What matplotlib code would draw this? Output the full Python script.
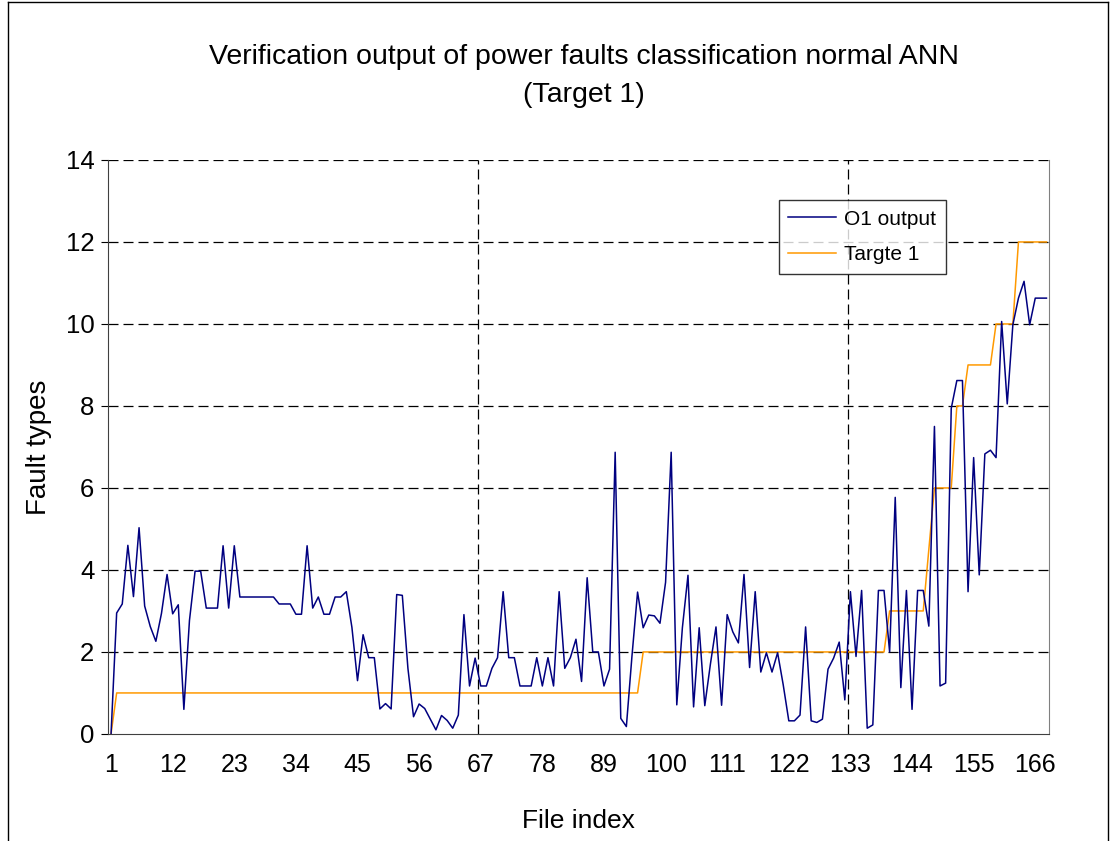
import matplotlib
matplotlib.use("Agg")
import matplotlib.pyplot as plt
from matplotlib.lines import Line2D
import numpy as np

plt.rcParams['font.family'] = ['Liberation Sans', 'DejaVu Sans']

# O1 output values, file index 1..168
o1_output = [
    0, 2.95, 3.17, 4.6, 3.35, 5.03, 3.12, 2.62, 2.26, 2.94,
    3.89, 2.93, 3.15, 0.6, 2.77, 3.97, 3.97, 3.07, 3.07, 3.07,
    4.59, 3.07, 4.59, 3.34, 3.34, 3.34, 3.34, 3.34, 3.34, 3.34,
    3.17, 3.17, 3.17, 2.92, 2.92, 4.59, 3.07, 3.34, 2.92, 2.92,
    3.34, 3.34, 3.47, 2.6, 1.3, 2.42, 1.86, 1.86, 0.61, 0.74,
    0.61, 3.4, 3.38, 1.6, 0.42, 0.73, 0.62, 0.36, 0.1, 0.45,
    0.33, 0.14, 0.46, 2.91, 1.17, 1.85, 1.17, 1.17, 1.6, 1.86,
    3.47, 1.86, 1.86, 1.17, 1.17, 1.17, 1.86, 1.17, 1.86, 1.17,
    3.47, 1.6, 1.86, 2.31, 1.28, 3.81, 2.0, 2.0, 1.17, 1.58,
    6.87, 0.38, 0.18, 1.9, 3.46, 2.59, 2.9, 2.88, 2.7, 3.7,
    6.87, 0.71, 2.59, 3.87, 0.66, 2.59, 0.69, 1.7, 2.61, 0.70,
    2.91, 2.49, 2.22, 3.89, 1.62, 3.47, 1.51, 1.98, 1.51, 1.98,
    1.2, 0.32, 0.32, 0.46, 2.61, 0.32, 0.28, 0.36, 1.58, 1.85,
    2.24, 0.83, 3.47, 1.89, 3.5, 0.14, 0.22, 3.5, 3.5, 2.0,
    5.77, 1.13, 3.5, 0.6, 3.5, 3.5, 2.63, 7.5, 1.17, 1.24,
    7.94, 8.62, 8.62, 3.47, 6.74, 3.88, 6.83, 6.92, 6.74, 10.06,
    8.05, 9.98, 10.63, 11.04, 9.98, 10.63, 10.63, 10.63,
]

# target values ("Targte 1" in the legend)
target_1 = [
    0, 1, 1, 1, 1, 1, 1, 1, 1, 1,
    1, 1, 1, 1, 1, 1, 1, 1, 1, 1,
    1, 1, 1, 1, 1, 1, 1, 1, 1, 1,
    1, 1, 1, 1, 1, 1, 1, 1, 1, 1,
    1, 1, 1, 1, 1, 1, 1, 1, 1, 1,
    1, 1, 1, 1, 1, 1, 1, 1, 1, 1,
    1, 1, 1, 1, 1, 1, 1, 1, 1, 1,
    1, 1, 1, 1, 1, 1, 1, 1, 1, 1,
    1, 1, 1, 1, 1, 1, 1, 1, 1, 1,
    1, 1, 1, 1, 1, 2, 2, 2, 2, 2,
    2, 2, 2, 2, 2, 2, 2, 2, 2, 2,
    2, 2, 2, 2, 2, 2, 2, 2, 2, 2,
    2, 2, 2, 2, 2, 2, 2, 2, 2, 2,
    2, 2, 2, 2, 2, 2, 2, 2, 2, 3,
    3, 3, 3, 3, 3, 3, 4.5, 6, 6, 6,
    6, 8, 8, 9, 9, 9, 9, 9, 10, 10,
    10, 10, 12, 12, 12, 12, 12, 12,
]

file_index = np.arange(1, len(o1_output) + 1)
x_labels = [1, 12, 23, 34, 45, 56, 67, 78, 89, 100, 111, 122, 133, 144, 155, 166]

fig = plt.figure(figsize=(11.16, 8.41), dpi=100)
ax = fig.add_axes([0.097, 0.1273, 0.8432, 0.6825])

ax.plot(file_index, o1_output, color='#000080', lw=1.1, label='O1 output', zorder=3)
ax.plot(file_index, target_1, color='#FF9900', lw=1.1, label='Targte 1', zorder=2)

ax.set_xlim(0.5, len(o1_output) + 0.5)
ax.set_ylim(0, 14)
ax.set_yticks(range(0, 15, 2))
ax.set_xticks(x_labels)
ax.tick_params(axis='x', length=0, pad=14, labelsize=18)
ax.tick_params(axis='y', length=5, direction='out', pad=5, labelsize=18.5)

# dashed gridlines
for yv in range(2, 15, 2):
    ax.axhline(yv, color='black', lw=0.9, ls=(0, (8, 4)), zorder=1)
for xv in [66.5, 132.5]:
    ax.axvline(xv, color='black', lw=0.9, ls=(0, (8, 4)), zorder=1)

ax.spines['top'].set_visible(False)
ax.spines['right'].set_color('#808080')
ax.spines['left'].set_color('#404040')
ax.spines['bottom'].set_color('#404040')

ax.set_xlabel('File index', fontsize=19, labelpad=23)
ax.set_ylabel('Fault types', fontsize=20, labelpad=10)

fig.text(0.523, 0.932, 'Verification output of power faults classification normal ANN',
         ha='center', va='center', fontsize=20.5)
fig.text(0.523, 0.887, '(Target 1)', ha='center', va='center', fontsize=20.5)

leg = ax.legend(loc='upper left', bbox_to_anchor=(0.7125, 0.93), fontsize=15,
                frameon=True, fancybox=False, edgecolor='black', handlelength=2.3,
                handletextpad=0.4, borderpad=0.45, labelspacing=0.8,
                borderaxespad=0)
leg.get_frame().set_linewidth(1.0)

# outer chart area border
fig.add_artist(Line2D([8 / 1116, 8 / 1116], [0, 0.998], transform=fig.transFigure,
                      color='black', lw=1))
fig.add_artist(Line2D([1108 / 1116, 1108 / 1116], [0, 0.998], transform=fig.transFigure,
                      color='black', lw=1))
fig.add_artist(Line2D([8 / 1116, 1108 / 1116], [0.998, 0.998], transform=fig.transFigure,
                      color='black', lw=1))

fig.savefig('out.png', dpi=100)
